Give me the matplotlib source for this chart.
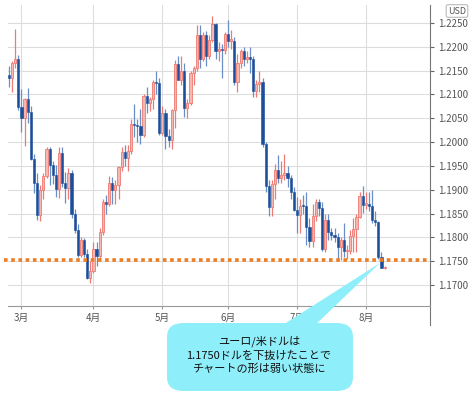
import numpy as np
import pandas as pd
import matplotlib
matplotlib.use("Agg")
import matplotlib.pyplot as plt
from matplotlib.patches import FancyBboxPatch, Polygon

plt.rcParams['font.family'] = ['Noto Sans CJK JP', 'DejaVu Sans']

# EUR/USD daily, 2021-02-23 .. 2021-08-10 (trading days)
START, END = "2021-02-23", "2021-08-10"
o = [1.2140, 1.2135, 1.2165, 1.2175,
     1.2073, 1.2050, 1.2090, 1.2063, 1.1965, 1.1915, 1.1847, 1.1899, 1.1929, 1.1986,
     1.1951, 1.1930, 1.1902, 1.1977, 1.1915, 1.1903, 1.1936, 1.1850, 1.1815, 1.1763,
     1.1795, 1.1765, 1.1714,
     1.1730, 1.1776, 1.1762, 1.1812, 1.1875, 1.1871, 1.1915, 1.1899, 1.1911, 1.1947,
     1.1979, 1.1966, 1.1982, 1.2037, 1.2035, 1.2034, 1.2014, 1.2097, 1.2083, 1.2090,
     1.2125, 1.2123,
     1.2019, 1.2062, 1.2013, 1.2004, 1.2067, 1.2164, 1.2130, 1.2150, 1.2072, 1.2081,
     1.2145, 1.2156, 1.2224, 1.2175, 1.2225, 1.2180, 1.2215, 1.2248, 1.2192, 1.2194,
     1.2193,
     1.2227, 1.2213, 1.2213, 1.2127, 1.2166, 1.2191, 1.2174, 1.2178, 1.2175, 1.2107,
     1.2121, 1.2125, 1.1997, 1.1907, 1.1864, 1.1913, 1.1941, 1.1925, 1.1930, 1.1936,
     1.1925, 1.1896,
     1.1858, 1.1847, 1.1866, 1.1865, 1.1823, 1.1792, 1.1845, 1.1875, 1.1861, 1.1776,
     1.1836, 1.1812, 1.1806, 1.1801, 1.1781, 1.1795, 1.1771, 1.1771, 1.1803, 1.1817,
     1.1843, 1.1887,
     1.1869, 1.1870, 1.1867, 1.1836, 1.1832, 1.1760, 1.1736]
h = [1.2160, 1.2171, 1.2237, 1.2183,
     1.2112, 1.2093, 1.2113, 1.2075, 1.1975, 1.1935, 1.1910, 1.1935, 1.1990, 1.1989,
     1.1960, 1.1952, 1.1990, 1.1989, 1.1938, 1.1945, 1.1942, 1.1860, 1.1828, 1.1800,
     1.1798, 1.1775, 1.1750,
     1.1790, 1.1790, 1.1820, 1.1880, 1.1890, 1.1928, 1.1927, 1.1920, 1.1950, 1.1990,
     1.1994, 1.1994, 1.2048, 1.2080, 1.2048, 1.2070, 1.2100, 1.2116, 1.2095, 1.2130,
     1.2150, 1.2135,
     1.2076, 1.2070, 1.2027, 1.2070, 1.2172, 1.2181, 1.2180, 1.2165, 1.2090, 1.2150,
     1.2160, 1.2245, 1.2245, 1.2230, 1.2233, 1.2225, 1.2265, 1.2250, 1.2210, 1.2205,
     1.2230,
     1.2255, 1.2235, 1.2220, 1.2185, 1.2195, 1.2200, 1.2190, 1.2200, 1.2180, 1.2130,
     1.2150, 1.2135, 1.2000, 1.1920, 1.1920, 1.1955, 1.1973, 1.1960, 1.1975, 1.1950,
     1.1930, 1.1905,
     1.1885, 1.1880, 1.1890, 1.1895, 1.1840, 1.1870, 1.1880, 1.1880, 1.1875, 1.1850,
     1.1850, 1.1820, 1.1820, 1.1810, 1.1800, 1.1830, 1.1785, 1.1815, 1.1840, 1.1850,
     1.1895, 1.1908,
     1.1895, 1.1895, 1.1900, 1.1855, 1.1835, 1.1770, 1.1740]
l = [1.2116, 1.2106, 1.2155, 1.2068,
     1.2022, 1.1991, 1.2040, 1.1962, 1.1893, 1.1837, 1.1835, 1.1880, 1.1925, 1.1910,
     1.1913, 1.1884, 1.1883, 1.1905, 1.1873, 1.1880, 1.1840, 1.1810, 1.1760, 1.1760,
     1.1760, 1.1712, 1.1704,
     1.1725, 1.1740, 1.1755, 1.1805, 1.1850, 1.1865, 1.1870, 1.1870, 1.1880, 1.1940,
     1.1950, 1.1940, 1.1975, 1.2010, 1.2000, 1.1995, 1.2010, 1.2060, 1.2065, 1.2070,
     1.2100, 1.2015,
     1.2015, 1.1985, 1.1990, 1.1985, 1.2030, 1.2130, 1.2120, 1.2052, 1.2050, 1.2078,
     1.2120, 1.2150, 1.2155, 1.2170, 1.2160, 1.2175, 1.2210, 1.2175, 1.2170, 1.2135,
     1.2185,
     1.2200, 1.2195, 1.2120, 1.2105, 1.2155, 1.2160, 1.2165, 1.2145, 1.2095, 1.2095,
     1.2105, 1.1990, 1.1895, 1.1845, 1.1845, 1.1880, 1.1915, 1.1915, 1.1920, 1.1905,
     1.1880, 1.1855,
     1.1810, 1.1810, 1.1850, 1.1785, 1.1780, 1.1780, 1.1835, 1.1845, 1.1772, 1.1770,
     1.1795, 1.1795, 1.1790, 1.1755, 1.1752, 1.1760, 1.1755, 1.1765, 1.1770, 1.1770,
     1.1840, 1.1852,
     1.1860, 1.1855, 1.1830, 1.1825, 1.1755, 1.1735, 1.1733]
c = [1.2135, 1.2165, 1.2175, 1.2073,
     1.2050, 1.2090, 1.2063, 1.1965, 1.1915, 1.1847, 1.1899, 1.1929, 1.1986, 1.1951,
     1.1930, 1.1902, 1.1977, 1.1915, 1.1903, 1.1936, 1.1850, 1.1815, 1.1763, 1.1795,
     1.1765, 1.1714, 1.1730,
     1.1776, 1.1762, 1.1812, 1.1875, 1.1871, 1.1915, 1.1899, 1.1911, 1.1947, 1.1979,
     1.1966, 1.1982, 1.2037, 1.2035, 1.2034, 1.2014, 1.2097, 1.2083, 1.2090, 1.2125,
     1.2123, 1.2019,
     1.2062, 1.2013, 1.2004, 1.2067, 1.2164, 1.2130, 1.2150, 1.2072, 1.2081, 1.2145,
     1.2156, 1.2224, 1.2175, 1.2225, 1.2180, 1.2215, 1.2248, 1.2192, 1.2194, 1.2193,
     1.2227,
     1.2213, 1.2213, 1.2127, 1.2166, 1.2191, 1.2174, 1.2178, 1.2175, 1.2107, 1.2121,
     1.2125, 1.1997, 1.1907, 1.1864, 1.1913, 1.1941, 1.1925, 1.1930, 1.1936, 1.1925,
     1.1896, 1.1858,
     1.1847, 1.1866, 1.1865, 1.1823, 1.1792, 1.1845, 1.1875, 1.1861, 1.1776, 1.1836,
     1.1812, 1.1806, 1.1801, 1.1781, 1.1795, 1.1771, 1.1771, 1.1803, 1.1817, 1.1843,
     1.1887, 1.1869,
     1.1870, 1.1867, 1.1836, 1.1832, 1.1760, 1.1736, 1.1739]

SUPPORT = 1.1753
YTICKS = [1.1700, 1.1750, 1.1800, 1.1850, 1.1900, 1.1950,
          1.2000, 1.2050, 1.2100, 1.2150, 1.2200, 1.2250]
NOTE = "ユーロ/米ドルは\n1.1750ドルを下抜けたことで\nチャートの形は弱い状態に"

df = pd.DataFrame({"open": o, "high": h, "low": l, "close": c},
                  index=pd.bdate_range(START, END))
x = np.arange(len(df))
up = df["close"].values >= df["open"].values

# month ticks at first trading day of each month
months = df.index.to_period("M")
first = [i for i in range(1, len(df)) if months[i] != months[i - 1]]
mlabels = [f"{df.index[i].month}月" for i in first]

fig = plt.figure(figsize=(4.75, 3.98), dpi=100)
ax = fig.add_axes([8 / 475, 1 - 306 / 398, 422 / 475, 301 / 398])

# wicks
ax.vlines(x[up], df["low"][up], df["high"][up], color="#ee7a73", lw=0.9, zorder=3)
ax.vlines(x[~up], df["low"][~up], df["high"][~up], color="#6a8ec6", lw=0.9, zorder=3)
# bodies
body = (df["close"] - df["open"]).abs().clip(lower=0.00025)
bot = df[["open", "close"]].min(axis=1)
ax.bar(x[up], body[up], bottom=bot[up], width=0.7, color="#f7b7b1",
       edgecolor="#ee7a73", lw=0.6, zorder=4)
ax.bar(x[~up], body[~up], bottom=bot[~up], width=0.7, color="#1b4f9c",
       edgecolor="#1b4f9c", lw=0.4, zorder=4)

ax.axhline(SUPPORT, xmin=-0.01, xmax=0.995, color="#ee7d22", lw=2.6,
           ls=(0, (1, 1)), zorder=5, clip_on=False)

ax.set_xlim(-0.3, 134.5)
ax.set_ylim(1.16563, 1.22875)
ax.set_xticks(first)
ax.set_xticklabels(mlabels)
ax.set_yticks(YTICKS)
ax.set_yticklabels([f"{v:.4f}" for v in YTICKS])
ax.yaxis.tick_right()
ax.tick_params(axis="y", length=3, color="#666666", labelsize=7, labelcolor="#555555", pad=3)
ax.tick_params(axis="x", length=2, color="#999999", labelsize=7, labelcolor="#555555", pad=3)
ax.grid(True, color="#dddddd", lw=0.8)
ax.set_axisbelow(True)
for s in ["top", "left"]:
    ax.spines[s].set_visible(False)
ax.spines["bottom"].set_color("#999999")
ax.spines["right"].set_color("#777777")
ax.spines["right"].set_bounds(1.16563 - 0.004, 1.22875)

# USD badge, sits just above the top label
fig.text(457 / 475, 1 - 11 / 398, "USD", fontsize=6.5, color="#555555",
         ha="center", va="center",
         bbox=dict(boxstyle="round,pad=0.2", fc="white", ec="#bbbbbb", lw=0.8))

# callout
box = FancyBboxPatch((167 / 475, 1 - 391 / 398), 186 / 475, 68 / 398,
                     boxstyle="round,pad=0,rounding_size=0.035",
                     transform=fig.transFigure, fc="#8eeef9", ec="none", zorder=10)
fig.patches.append(box)
tip = Polygon([(278 / 475, 1 - 328 / 398), (312 / 475, 1 - 328 / 398),
               (380 / 475, 1 - 263 / 398)],
              closed=True, transform=fig.transFigure, fc="#8eeef9", ec="none", zorder=10)
fig.patches.append(tip)
fig.text(259 / 475, 1 - 355 / 398, NOTE, fontsize=8, color="#111111",
         ha="center", va="center", linespacing=1.35, zorder=11)

fig.savefig("out.png", dpi=100)
